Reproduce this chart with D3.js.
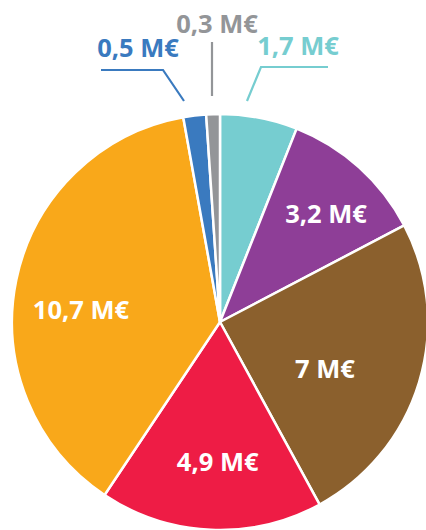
<!DOCTYPE html>
<html>
<head>
<meta charset="utf-8">
<script src="https://cdn.jsdelivr.net/npm/d3@7"></script>
<style>
  html, body { margin: 0; padding: 0; background: #fff; }
  svg { display: block; }
  text { font-family: "Open Sans", sans-serif; font-weight: 700; }
</style>
</head>
<body>
<div id="chart"></div>
<script>
const labels = ["1,7 M€", "3,2 M€", "7 M€", "4,9 M€", "10,7 M€", "0,5 M€", "0,3 M€"];
const values = [1.7, 3.2, 7, 4.9, 10.7, 0.5, 0.3];
const colors = ["#76cdd0", "#8e3e97", "#8b602d", "#ee1c45", "#f9a81a", "#3a7abf", "#939598"];

const WIDTH = 426, HEIGHT = 530;
const CX = 220, CY = 322, R = 208;
const LABEL_R = 142;
const FONT = 25.5;

// small nudges from the centroid for the inside labels
const NUDGE = { 1: [11, -3], 2: [-31, 6], 3: [4, -2], 4: [0, 17] };

// outside labels for the thin slices: text centre x, baseline y, leader points
const OUTSIDE = {
  0: { tx: 298, ty: 55, pts: [[247, 101], [261, 67], [328, 67]] },
  5: { tx: 138, ty: 57, pts: [[184, 101], [163, 70], [101, 70]] },
  6: { tx: 217, ty: 33, pts: [[212, 96], [212, 42]] }
};

const data = values.map((v, i) => ({ label: labels[i], value: v, color: colors[i], i }));

const svg = d3.select("#chart").append("svg")
  .attr("width", WIDTH)
  .attr("height", HEIGHT);

const pie = d3.pie().value(d => d.value).sort(null);
const arc = d3.arc().innerRadius(0).outerRadius(R);
const labelArc = d3.arc().innerRadius(LABEL_R).outerRadius(LABEL_R);

const g = svg.append("g").attr("transform", `translate(${CX},${CY})`);
const arcs = pie(data);

g.selectAll("path")
  .data(arcs)
  .enter().append("path")
  .attr("d", arc)
  .attr("fill", d => d.data.color)
  .attr("stroke", "#fff")
  .attr("stroke-width", 2.5)
  .attr("stroke-linejoin", "round");

// inside labels
g.selectAll(".inner")
  .data(arcs.filter(d => !OUTSIDE[d.data.i]))
  .enter().append("text")
  .attr("class", "inner")
  .attr("transform", d => {
    const [x, y] = labelArc.centroid(d);
    const [nx, ny] = NUDGE[d.data.i] || [0, 0];
    return `translate(${x + nx},${y + ny})`;
  })
  .attr("text-anchor", "middle")
  .attr("dy", "0.36em")
  .attr("fill", "#fff")
  .attr("font-size", FONT)
  .text(d => d.data.label);

// outside labels with leader lines
Object.entries(OUTSIDE).forEach(([i, o]) => {
  const d = data[+i];
  svg.append("polyline")
    .attr("points", o.pts.map(p => p.join(",")).join(" "))
    .attr("fill", "none")
    .attr("stroke", d.color)
    .attr("stroke-width", 2.2);
  svg.append("text")
    .attr("x", o.tx)
    .attr("y", o.ty)
    .attr("text-anchor", "middle")
    .attr("fill", d.color)
    .attr("font-size", FONT)
    .text(d.label);
});
</script>
</body>
</html>
